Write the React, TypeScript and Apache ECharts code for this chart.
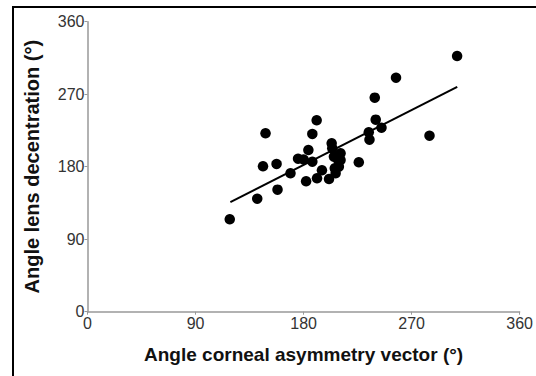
import React, { useEffect, useRef } from "react";
import * as echarts from "echarts";

const xTicks = [0, 90, 180, 270, 360];
const yTicks = [0, 90, 180, 270, 360];

const cornealAngle = [
  118.5, 141.4, 148.3, 146.2, 157.5, 158.3, 169.1, 175.4, 180, 184, 187.3, 182.1,
  187.3, 190.9, 191.2, 195.3, 201.2, 203.4, 203.9, 205.3, 210.8, 208.9, 209.4, 206,
  206.7, 210.8, 226, 234.3, 234.9, 239.3, 240.1, 244.9, 257, 284.9, 307.9,
];
const lensAngle = [
  114.7, 140.3, 221.5, 180.5, 183.4, 151.5, 171.8, 189.9, 189, 200.7, 186.2, 161.9,
  220.6, 237.6, 165.6, 175.5, 164.7, 209.1, 202.8, 192.4, 196.6, 188.3, 180, 178,
  171.8, 188.3, 185.5, 222.7, 213.5, 265.7, 238.4, 228.4, 290.5, 218.5, 317.4,
];

const fitX = [119, 308];
const fitY = [136, 279];

export default function App() {
  const ref = useRef<HTMLDivElement>(null);
  useEffect(() => {
    if (!ref.current) return;
    const chart = echarts.init(ref.current, null, { renderer: "svg" });
    const font = "'Liberation Sans', Arial, sans-serif";
    chart.setOption({
      animation: false,
      backgroundColor: "#fff",
      grid: { left: 87.5, right: 14.5, top: 21.7, bottom: 64.3 },
      xAxis: {
        type: "value",
        min: xTicks[0],
        max: xTicks[xTicks.length - 1],
        interval: 90,
        name: "Angle corneal asymmetry vector (°)",
        nameLocation: "middle",
        nameGap: 33,
        nameTextStyle: { fontFamily: font, fontSize: 19, fontWeight: "bold", color: "#111" },
        axisLine: { lineStyle: { color: "#999", width: 1.5 } },
        axisTick: { show: true, length: 3, lineStyle: { color: "#999" } },
        axisLabel: { fontFamily: font, fontSize: 16, color: "#333", margin: 4 },
        splitLine: { show: false },
      },
      yAxis: {
        type: "value",
        min: yTicks[0],
        max: yTicks[yTicks.length - 1],
        interval: 90,
        name: "Angle lens decentration (°)",
        nameLocation: "middle",
        nameGap: 46,
        nameRotate: 90,
        nameTextStyle: { fontFamily: font, fontSize: 20, fontWeight: "bold", color: "#111" },
        axisLine: { show: true, lineStyle: { color: "#999", width: 1.5 } },
        axisTick: { show: true, length: 3, lineStyle: { color: "#999" } },
        axisLabel: { fontFamily: font, fontSize: 16, color: "#333", margin: 3 },
        splitLine: { show: false },
      },
      series: [
        {
          type: "scatter",
          data: cornealAngle.map((x, i) => [x, lensAngle[i]]),
          symbol: "circle",
          symbolSize: 10.5,
          itemStyle: { color: "#000", opacity: 1 },
          z: 3,
        },
        {
          type: "line",
          data: fitX.map((x, i) => [x, fitY[i]]),
          showSymbol: false,
          symbol: "none",
          lineStyle: { color: "#000", width: 2 },
          z: 4,
        },
      ],
      graphic: [
        { type: "line", shape: { x1: 12, y1: 7, x2: 536, y2: 7 }, style: { stroke: "#000", lineWidth: 2 } },
        { type: "line", shape: { x1: 13, y1: 6, x2: 13, y2: 376 }, style: { stroke: "#000", lineWidth: 2 } },
      ],
    });
    return () => chart.dispose();
  }, []);
  return <div ref={ref} style={{ width: 536, height: 376, position: "absolute", left: 0, top: 0 }} />;
}
